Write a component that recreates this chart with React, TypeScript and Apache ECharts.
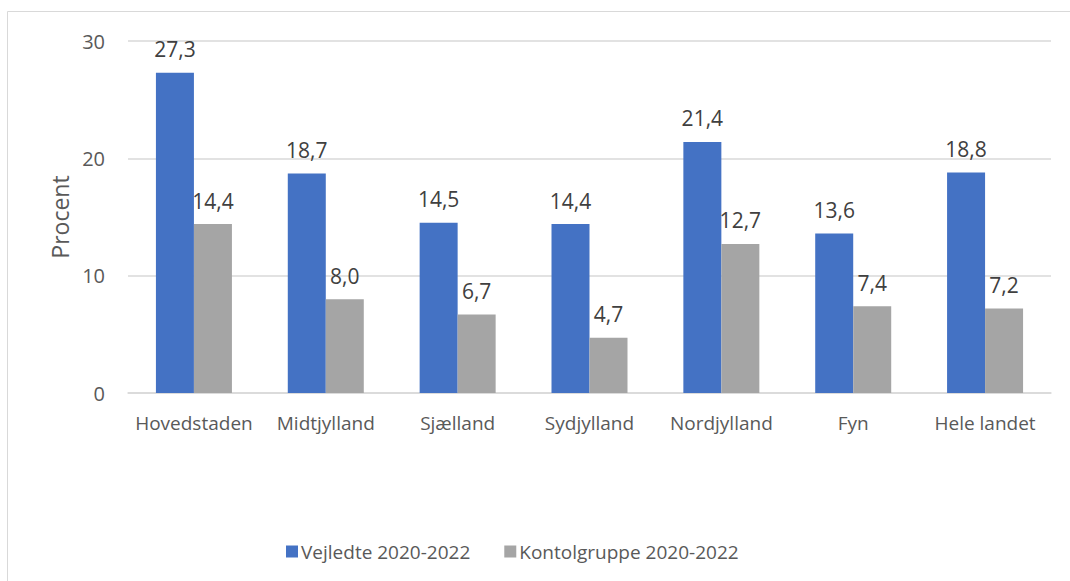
import React, { useEffect, useRef } from "react";
import * as echarts from "echarts";

const categories = ["Hovedstaden", "Midtjylland", "Sjælland", "Sydjylland", "Nordjylland", "Fyn", "Hele landet"];
const vejledte = [27.3, 18.7, 14.5, 14.4, 21.4, 13.6, 18.8];
const kontrol = [14.4, 8.0, 6.7, 4.7, 12.7, 7.4, 7.2];
const seriesNames = ["Vejledte 2020-2022", "Kontolgruppe 2020-2022"];
const yTicks = { min: 0, max: 30, interval: 10 };

const FONT = "'Open Sans', sans-serif";

export default function App() {
  const ref = useRef<HTMLDivElement>(null);
  useEffect(() => {
    if (!ref.current) return;
    const chart = echarts.init(ref.current, undefined, { renderer: "svg" });
    const label = {
      show: true,
      position: "top",
      distance: 13,
      color: "#404040",
      fontSize: 21,
      fontFamily: FONT,
      formatter: (p: any) => Number(p.value).toFixed(1).replace(".", ","),
    };
    chart.setOption({
      animation: false,
      textStyle: { fontFamily: FONT },
      grid: { left: 128, right: 19, top: 41, bottom: 188, containLabel: false },
      graphic: [
        { type: "line", shape: { x1: 7.5, y1: 11.5, x2: 1070, y2: 11.5 }, style: { stroke: "#D9D9D9", lineWidth: 1 } },
        { type: "line", shape: { x1: 7.5, y1: 11.5, x2: 7.5, y2: 581 }, style: { stroke: "#D9D9D9", lineWidth: 1 } },
      ],
      legend: {
        left: 281,
        top: 537,
        itemWidth: 12,
        itemHeight: 12,
        itemGap: 34,
        icon: "rect",
        textStyle: { color: "#595959", fontSize: 19, fontFamily: FONT, padding: [0, 0, 0, -2] },
        data: seriesNames,
      },
      xAxis: {
        type: "category",
        data: categories,
        axisLine: { lineStyle: { color: "#D9D9D9", width: 1.5 } },
        axisTick: { show: false },
        axisLabel: { color: "#595959", fontSize: 19, fontFamily: FONT, margin: 20, interval: 0 },
      },
      yAxis: {
        type: "value",
        min: yTicks.min,
        max: yTicks.max,
        interval: yTicks.interval,
        name: "Procent",
        nameLocation: "middle",
        nameGap: 57,
        nameTextStyle: { color: "#595959", fontSize: 23, fontFamily: FONT },
        axisLine: { show: false },
        axisTick: { show: false },
        axisLabel: { color: "#595959", fontSize: 20, fontFamily: FONT, margin: 23 },
        splitLine: { lineStyle: { color: "#D9D9D9", width: 1.5 } },
      },
      series: [
        {
          name: seriesNames[0],
          type: "bar",
          data: vejledte,
          itemStyle: { color: "#4472C4" },
          barWidth: 38,
          barGap: "0%",
          label,
        },
        {
          name: seriesNames[1],
          type: "bar",
          data: kontrol,
          itemStyle: { color: "#A5A5A5" },
          barWidth: 38,
          barGap: "0%",
          label,
        },
      ],
    });
    return () => chart.dispose();
  }, []);
  return (
    <div
      ref={ref}
      style={{ position: "fixed", left: 0, top: 0, width: 1070, height: 581, background: "#fff" }}
    />
  );
}
